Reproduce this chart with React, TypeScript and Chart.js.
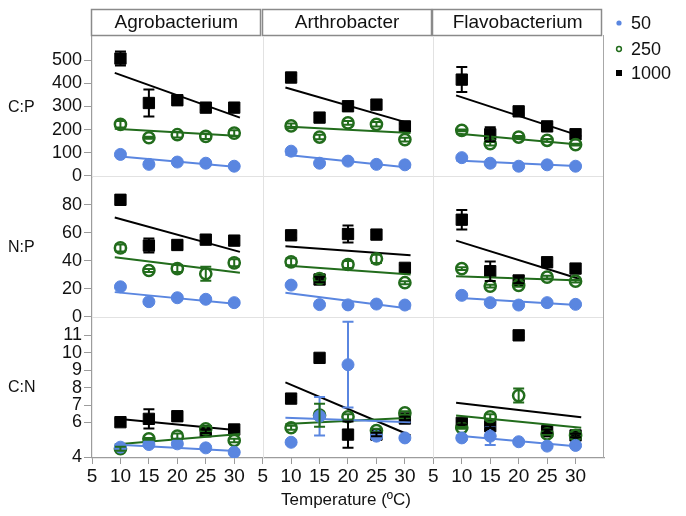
import { useEffect, useRef } from "react"
import { Chart, registerables } from "chart.js"

Chart.register(...registerables)

// shared categories
const temps = [10, 15, 20, 25, 30]
const fitX = [9, 31]
const strains = ["Agrobacterium", "Arthrobacter", "Flavobacterium"]
const ratios = ["C:P", "N:P", "C:N"]
const levels = ["50", "250", "1000"]

// tick labels
const xTicks = [5, 10, 15, 20, 25, 30]
const cpTicks = [0, 100, 200, 300, 400, 500]
const npTicks = [0, 20, 40, 60, 80]
const cnTicks = [4, 6, 7, 8, 9, 10, 11]

// means per panel: [50, 250, 1000]
const agroCP = [[93, 50, 60, 55, 42], [223, 165, 178, 171, 185], [507, 315, 327, 295, 295]]
const arthroCP = [[107, 55, 64, 50, 48], [216, 168, 229, 223, 157], [425, 252, 301, 308, 214]]
const flavoCP = [[79, 55, 42, 48, 42], [197, 139, 168, 154, 135], [416, 180, 279, 214, 180]]
const agroNP = [[21.5, 10.9, 13.7, 12.6, 10.2], [49.2, 33.1, 34.5, 30.8, 38.6], [83.5, 50.9, 51.3, 55.1, 54.4]]
const arthroNP = [[22.7, 8.8, 8.6, 9.2, 8.5], [39.3, 27.4, 37.4, 41.4, 24.4], [58.2, 26.7, 59.1, 58.7, 35]]
const flavoNP = [[15.4, 10.2, 8.5, 10.2, 9], [34.5, 22, 22.5, 28.4, 25.5], [69.3, 32.6, 26, 39, 34.5]]
const agroCN = [[4.59, 4.74, 4.78, 4.55, 4.3], [4.5, 5.07, 5.22, 5.64, 4.97], [6.02, 6.21, 6.36, 5.5, 5.6]]
const arthroCN = [[4.87, 6.36, 9.31, 5.22, 5.12], [5.7, 6.42, 6.33, 5.54, 6.55], [7.37, 9.7, 5.31, 5.31, 6.23]]
const flavoCN = [[5.12, 5.22, 4.9, 4.65, 4.69], [5.7, 6.33, 7.54, 5.35, 5.26], [5.98, 5.79, 10.99, 5.5, 5.26]]

// standard errors
const agroCPErr = [[5, 5, 5, 5, 4], [14, 4, 12, 12, 12], [30, 58, 12, 10, 12]]
const arthroCPErr = [[5, 4, 4, 4, 4], [10, 10, 8, 10, 8], [10, 10, 10, 10, 10]]
const flavoCPErr = [[4, 4, 4, 4, 4], [4, 8, 4, 6, 4], [54, 30, 10, 10, 10]]
const agroNPErr = [[1, 1, 1, 1, 1], [2.5, 1, 2.5, 5, 2.5], [3.5, 5, 2, 2, 2]]
const arthroNPErr = [[1, 1, 1, 1, 1], [2.5, 2, 2.5, 3, 1], [2, 2, 6, 2, 2]]
const flavoNPErr = [[1, 1, 1, 1, 1], [1, 1, 1, 1, 1], [7, 7, 2, 2, 2]]
const agroCNErr = [[0.1, 0.1, 0.1, 0.1, 0.1], [0.12, 0.05, 0.15, 0.15, 0.1], [0.1, 0.55, 0.1, 0.1, 0.1]]
const arthroCNErr = [[0.1, 1.1, 2.45, 0.1, 0.1], [0.12, 0.66, 0.15, 0.1, 0.1], [0.1, 0.1, 0.75, 0.1, 0.1]]
const flavoCNErr = [[0.1, 0.5, 0.1, 0.1, 0.1], [0.05, 0.15, 0.4, 0.05, 0.1], [0.1, 0.1, 0.1, 0.1, 0.1]]

// fitted lines, value at fitX ends
const agroCPFit = [[86, 38], [204, 172], [445, 252]]
const arthroCPFit = [[92, 35], [214, 185], [382, 226]]
const flavoCPFit = [[67, 42], [183, 135], [348, 171]]
const agroNPFit = [[17.7, 9.0], [42.6, 31.5], [70.9, 46.4]]
const arthroNPFit = [[17.3, 5.9], [36.7, 30.3], [50.4, 44.0]]
const flavoNPFit = [[13.7, 8.3], [29.1, 26.0], [54.4, 26.7]]
const agroCNFit = [[4.74, 4.36], [4.74, 5.35], [6.23, 5.54]]
const arthroCNFit = [[6.27, 6.02], [5.92, 6.27], [8.3, 5.26]]
const flavoCNFit = [[5.26, 4.61], [6.4, 5.7], [7.13, 6.3]]

const means = [
  [agroCP, arthroCP, flavoCP],
  [agroNP, arthroNP, flavoNP],
  [agroCN, arthroCN, flavoCN],
]
const errs = [
  [agroCPErr, arthroCPErr, flavoCPErr],
  [agroNPErr, arthroNPErr, flavoNPErr],
  [agroCNErr, arthroCNErr, flavoCNErr],
]
const fits = [
  [agroCPFit, arthroCPFit, flavoCPFit],
  [agroNPFit, arthroNPFit, flavoNPFit],
  [agroCNFit, arthroCNFit, flavoCNFit],
]

const yTickSets = [cpTicks, npTicks, cnTicks]
const yRanges = [[-6, 600], [-0.5, 99.5], [3.97, 12]]

const BLUE = "#5a86e0"
const GREEN = "#226c1c"
const BLACK = "#000000"
const colors = [BLUE, GREEN, BLACK]
const FONT = "'Liberation Sans', Arial, sans-serif"
const AXIS = "#9c9c9c"

const facetPlugin = {
  id: "facets",
  beforeDatasetsDraw(chart: any) {
    const ctx = chart.ctx
    const { top, bottom, left, right } = chart.chartArea
    ctx.save()
    ctx.strokeStyle = "#e2e2e2"
    ctx.lineWidth = 1
    ctx.beginPath()
    for (let c = 0; c < 2; c++) {
      const x = Math.round(chart.scales[`x${c}`].right) + 0.5
      ctx.moveTo(x, top)
      ctx.lineTo(x, bottom)
    }
    for (let r = 0; r < 2; r++) {
      const y = Math.round(chart.scales[`y${r}`].bottom) - 0.5
      ctx.moveTo(left, y)
      ctx.lineTo(right, y)
    }
    ctx.stroke()
    ctx.strokeStyle = "#a8a8a8"
    ctx.beginPath()
    ctx.moveTo(Math.round(right) - 0.5, 35)
    ctx.lineTo(Math.round(right) - 0.5, bottom)
    ctx.stroke()
    ctx.restore()
  },
  afterDatasetsDraw(chart: any) {
    const ctx = chart.ctx
    ctx.save()
    ctx.lineWidth = 2
    chart.data.datasets.forEach((ds: any) => {
      if (!ds.errors) return
      const xs = chart.scales[ds.xAxisID]
      const ys = chart.scales[ds.yAxisID]
      ctx.strokeStyle = ds.borderColor
      ds.data.forEach((p: any, i: number) => {
        const e = ds.errors[i]
        const x = xs.getPixelForValue(p.x)
        const y1 = ys.getPixelForValue(p.y - e)
        const y2 = ys.getPixelForValue(p.y + e)
        ctx.beginPath()
        ctx.moveTo(x, y1)
        ctx.lineTo(x, y2)
        ctx.moveTo(x - 5.5, y1)
        ctx.lineTo(x + 5.5, y1)
        ctx.moveTo(x - 5.5, y2)
        ctx.lineTo(x + 5.5, y2)
        ctx.stroke()
      })
    })
    ctx.restore()
  },
  afterDraw(chart: any) {
    const ctx = chart.ctx
    ctx.save()
    // strip headers
    ctx.textAlign = "center"
    ctx.textBaseline = "middle"
    ctx.font = `19px ${FONT}`
    strains.forEach((name, c) => {
      const s = chart.scales[`x${c}`]
      ctx.fillStyle = "#ffffff"
      ctx.fillRect(s.left, 9, s.width - 2, 26)
      ctx.strokeStyle = "#8a8a8a"
      ctx.lineWidth = 1.5
      ctx.strokeRect(Math.round(s.left) - 0.5, 9.5, Math.round(s.width) - 2, 26)
      ctx.fillStyle = "#111111"
      ctx.fillText(name, s.left + s.width / 2 - 1, 23)
    })
    // row labels
    ctx.textAlign = "left"
    ctx.font = `16px ${FONT}`
    ratios.forEach((name, r) => {
      const s = chart.scales[`y${r}`]
      ctx.fillText(name, 8, (s.top + s.bottom) / 2)
    })
    // axis title
    ctx.textAlign = "center"
    ctx.font = `17px ${FONT}`
    const mid = chart.scales.x1
    ctx.fillText("Temperature (ºC)", mid.left + mid.width / 2 - 2, 500)
    // legend
    const lx = 619
    const ly = [23, 49, 73]
    ctx.textAlign = "left"
    ctx.font = `18px ${FONT}`
    levels.forEach((name, i) => {
      ctx.fillStyle = colors[i]
      ctx.strokeStyle = colors[i]
      if (i === 0) {
        ctx.beginPath()
        ctx.arc(lx, ly[i], 2.6, 0, Math.PI * 2)
        ctx.fill()
      } else if (i === 1) {
        ctx.lineWidth = 1.5
        ctx.beginPath()
        ctx.arc(lx, ly[i], 2.4, 0, Math.PI * 2)
        ctx.stroke()
      } else {
        ctx.fillRect(lx - 3, ly[i] - 3, 6, 6)
      }
      ctx.fillStyle = "#111111"
      ctx.fillText(name, 631, ly[i] + 1)
    })
    ctx.restore()
  },
}

export default function App() {
  const chartRef = useRef<HTMLCanvasElement>(null)
  const chartInstance = useRef<Chart | null>(null)

  useEffect(() => {
    if (!chartRef.current) return
    const ctx = chartRef.current.getContext("2d")
    if (!ctx) return

    if (chartInstance.current) {
      chartInstance.current.destroy()
    }

    Chart.defaults.font.family = FONT
    Chart.defaults.color = "#111111"

    const datasets: any[] = []
    ratios.forEach((_, r) => {
      strains.forEach((__, c) => {
        levels.forEach((lvl, l) => {
          // fitted line
          datasets.push({
            label: `fit ${lvl}`,
            type: "scatter",
            showLine: true,
            xAxisID: `x${c}`,
            yAxisID: `y${r}`,
            data: fitX.map((x, i) => ({ x, y: fits[r][c][l][i] })),
            borderColor: colors[l],
            borderWidth: 2,
            pointRadius: 0,
            fill: false,
          })
          // points with error bars
          datasets.push({
            label: lvl,
            type: "scatter",
            xAxisID: `x${c}`,
            yAxisID: `y${r}`,
            data: temps.map((t, i) => ({ x: t, y: means[r][c][l][i] })),
            errors: errs[r][c][l],
            borderColor: colors[l],
            backgroundColor: l === 1 ? "rgba(255,255,255,0)" : colors[l],
            pointStyle: l === 2 ? "rect" : "circle",
            pointRadius: l === 2 ? 8 : l === 1 ? 5.6 : 6,
            borderWidth: l === 1 ? 2.5 : 1,
          })
        })
      })
    })

    const scales: any = {}
    strains.forEach((_, c) => {
      scales[`x${c}`] = {
        type: "linear",
        position: "bottom",
        stack: "cols",
        min: 5,
        max: 35,
        afterBuildTicks: (s: any) => {
          s.ticks = xTicks.map((v) => ({ value: v }))
        },
        afterFit: (s: any) => {
          s.height = 58
        },
        ticks: {
          autoSkip: false,
          maxRotation: 0,
          padding: 1,
          color: "#111111",
          font: { size: 19 },
        },
        grid: { drawOnChartArea: false, tickLength: 6, color: AXIS },
        border: { color: AXIS, width: 1.2 },
      }
    })
    ratios.forEach((_, r) => {
      scales[`y${r}`] = {
        type: "linear",
        position: "left",
        stack: "rows",
        weight: 3 - r,
        min: yRanges[r][0],
        max: yRanges[r][1],
        afterBuildTicks: (s: any) => {
          s.ticks = yTickSets[r].map((v) => ({ value: v }))
        },
        afterFit: (s: any) => {
          s.width = 92
        },
        ticks: {
          autoSkip: false,
          padding: 2,
          color: "#111111",
          font: { size: 18 },
        },
        grid: { drawOnChartArea: false, tickLength: 8, color: AXIS },
        border: { color: AXIS, width: 1.2 },
      }
    })

    chartInstance.current = new Chart(ctx, {
      type: "scatter",
      data: { datasets },
      options: {
        animation: false,
        responsive: true,
        maintainAspectRatio: false,
        events: [],
        layout: { padding: { top: 37, right: 82, bottom: 0, left: 0 } },
        plugins: {
          legend: { display: false },
          tooltip: { enabled: false },
        },
        scales,
      },
      plugins: [facetPlugin],
    } as any)

    return () => {
      if (chartInstance.current) {
        chartInstance.current.destroy()
        chartInstance.current = null
      }
    }
  }, [])

  return (
    <div style={{ position: "fixed", left: 0, top: 0, width: 686, height: 516, background: "#ffffff" }}>
      <canvas ref={chartRef} />
    </div>
  )
}
